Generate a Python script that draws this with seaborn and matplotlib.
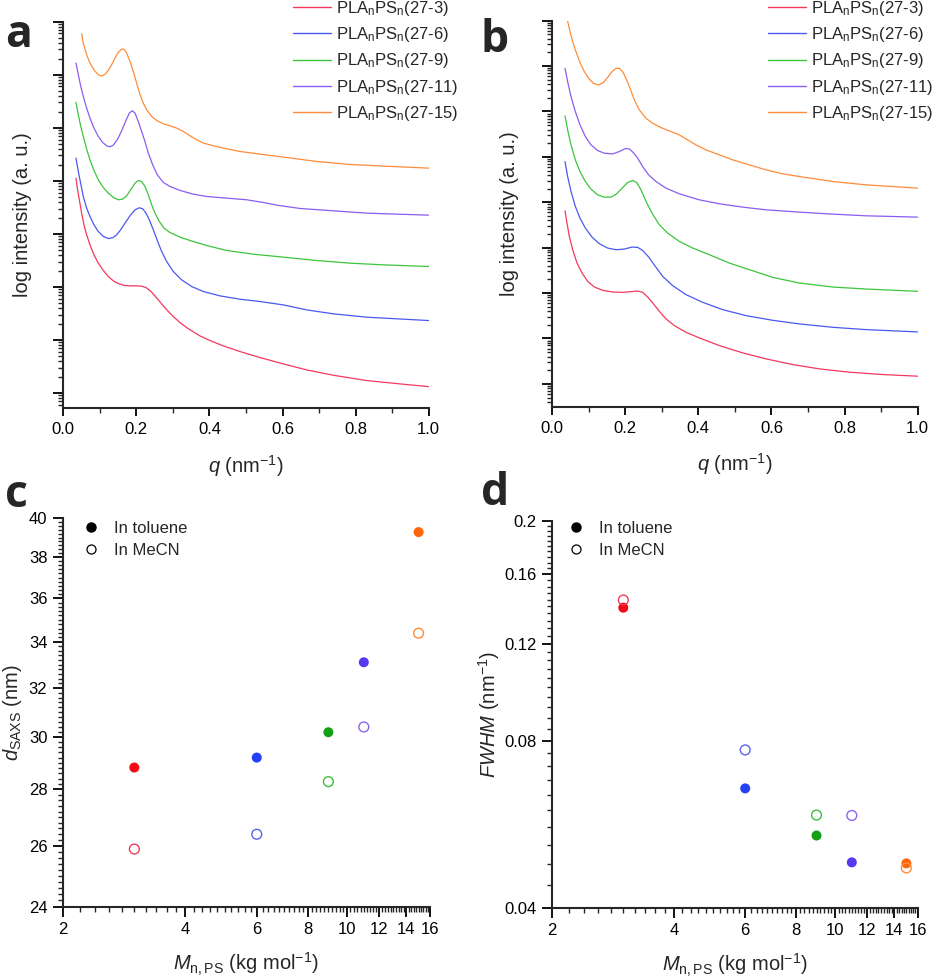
import numpy as np
import pandas as pd
import matplotlib
matplotlib.use("Agg")
import matplotlib.pyplot as plt
from matplotlib.ticker import (MultipleLocator, NullFormatter, FormatStrFormatter,
                               LogLocator, FixedLocator)
from matplotlib.lines import Line2D
import seaborn as sns

# ---------------- data ----------------
samples = ["27-3", "27-6", "27-9", "27-11", "27-15"]

# panel a (in toluene): q (nm^-1) and log10 intensity (a.u., curves offset)
q_a_3 = [0.0347, 0.0383, 0.0438, 0.0502, 0.0566, 0.0639, 0.0730, 0.0839, 0.0958, 0.1095,
         0.1232, 0.1369, 0.1505, 0.1642, 0.1825, 0.2007, 0.2144, 0.2263, 0.2372, 0.2482,
         0.2600, 0.2737, 0.2874, 0.3011, 0.3193, 0.3376, 0.3558, 0.3741, 0.4015, 0.4380,
         0.4836, 0.5383, 0.6022, 0.6661, 0.7391, 0.8303, 0.9215, 1.0]
logI_a_3 = [4.050, 3.862, 3.642, 3.390, 3.170, 2.981, 2.792, 2.604, 2.447, 2.308,
            2.195, 2.113, 2.063, 2.031, 2.019, 2.019, 2.013, 1.987, 1.931, 1.849,
            1.755, 1.642, 1.535, 1.440, 1.327, 1.233, 1.151, 1.075, 0.987, 0.887,
            0.780, 0.667, 0.547, 0.434, 0.333, 0.233, 0.170, 0.119]
q_a_6 = [0.0347, 0.0411, 0.0474, 0.0547, 0.0639, 0.0730, 0.0839, 0.0958, 0.1095, 0.1232,
         0.1350, 0.1460, 0.1569, 0.1688, 0.1825, 0.1962, 0.2080, 0.2172, 0.2263, 0.2354,
         0.2464, 0.2573, 0.2692, 0.2828, 0.3011, 0.3239, 0.3513, 0.3832, 0.4288, 0.4836,
         0.5383, 0.6022, 0.6661, 0.7391, 0.8303, 1.0]
logI_a_6 = [4.428, 4.176, 3.956, 3.704, 3.484, 3.327, 3.170, 3.044, 2.950, 2.912,
            2.925, 2.981, 3.075, 3.201, 3.340, 3.453, 3.491, 3.472, 3.390, 3.264,
            3.075, 2.874, 2.667, 2.478, 2.289, 2.132, 2.006, 1.912, 1.830, 1.767,
            1.723, 1.660, 1.566, 1.491, 1.428, 1.365]
q_a_9 = [0.0347, 0.0411, 0.0474, 0.0547, 0.0639, 0.0730, 0.0839, 0.0958, 0.1095, 0.1232,
         0.1369, 0.1505, 0.1624, 0.1734, 0.1843, 0.1962, 0.2053, 0.2144, 0.2235, 0.2327,
         0.2418, 0.2509, 0.2628, 0.2755, 0.2920, 0.3193, 0.3558, 0.3923, 0.4471, 0.5201,
         0.6022, 0.6934, 0.7847, 0.8759, 1.0]
logI_a_9 = [5.478, 5.245, 5.038, 4.836, 4.597, 4.396, 4.195, 4.019, 3.874, 3.767,
            3.686, 3.642, 3.654, 3.717, 3.830, 3.956, 4.006, 3.987, 3.893, 3.736,
            3.547, 3.390, 3.233, 3.107, 3.025, 2.937, 2.855, 2.780, 2.686, 2.616,
            2.560, 2.497, 2.447, 2.415, 2.384]
q_a_11 = [0.0347, 0.0411, 0.0474, 0.0547, 0.0639, 0.0730, 0.0839, 0.0958, 0.1077, 0.1186,
          0.1277, 0.1369, 0.1478, 0.1597, 0.1715, 0.1807, 0.1889, 0.1962, 0.2053, 0.2144,
          0.2235, 0.2327, 0.2445, 0.2573, 0.2737, 0.2920, 0.3193, 0.3558, 0.3923, 0.4471,
          0.5018, 0.5474, 0.5839, 0.6478, 0.7391, 0.8303, 1.0]
logI_a_11 = [6.220, 6.000, 5.792, 5.591, 5.371, 5.182, 4.994, 4.836, 4.723, 4.660,
             4.642, 4.673, 4.774, 4.943, 5.138, 5.277, 5.321, 5.277, 5.119, 4.931,
             4.742, 4.522, 4.302, 4.113, 3.969, 3.893, 3.818, 3.748, 3.704, 3.673,
             3.642, 3.591, 3.541, 3.478, 3.434, 3.390, 3.352]
q_a_15 = [0.0502, 0.0547, 0.0639, 0.0730, 0.0849, 0.0958, 0.1049, 0.1141, 0.1232, 0.1323,
          0.1414, 0.1505, 0.1597, 0.1661, 0.1734, 0.1825, 0.1916, 0.2007, 0.2099, 0.2190,
          0.2281, 0.2418, 0.2555, 0.2737, 0.2920, 0.3102, 0.3285, 0.3467, 0.3650, 0.3832,
          0.4106, 0.4471, 0.4836, 0.5383, 0.6022, 0.6934, 0.7847, 0.8759, 1.0]
logI_a_15 = [6.774, 6.597, 6.377, 6.220, 6.082, 6.000, 5.975, 6.006, 6.082, 6.189,
             6.314, 6.421, 6.484, 6.478, 6.409, 6.252, 6.063, 5.843, 5.623, 5.465,
             5.340, 5.214, 5.138, 5.075, 5.038, 4.994, 4.931, 4.849, 4.774, 4.711,
             4.660, 4.604, 4.553, 4.503, 4.447, 4.365, 4.308, 4.277, 4.239]

# panel b (in MeCN)
q_b_3 = [0.0356, 0.0410, 0.0474, 0.0565, 0.0684, 0.0821, 0.0976, 0.1158, 0.1386, 0.1659,
         0.1932, 0.2160, 0.2343, 0.2479, 0.2616, 0.2771, 0.2935, 0.3118, 0.3346, 0.3665,
         0.4029, 0.4576, 0.5214, 0.5852, 0.6581, 0.7311, 0.8131, 0.9043, 1.0]
logI_b_3 = [3.812, 3.541, 3.248, 2.955, 2.661, 2.441, 2.258, 2.133, 2.060, 2.023,
            2.016, 2.031, 2.045, 2.016, 1.913, 1.767, 1.598, 1.430, 1.283, 1.136,
            1.012, 0.843, 0.682, 0.550, 0.425, 0.330, 0.257, 0.205, 0.169]
q_b_6 = [0.0356, 0.0428, 0.0520, 0.0638, 0.0766, 0.0912, 0.1094, 0.1294, 0.1522, 0.1750,
         0.1978, 0.2188, 0.2343, 0.2479, 0.2644, 0.2826, 0.3026, 0.3300, 0.3665, 0.4120,
         0.4667, 0.5306, 0.6035, 0.6764, 0.7675, 0.8587, 1.0]
logI_b_6 = [4.897, 4.567, 4.238, 3.908, 3.651, 3.431, 3.233, 3.087, 2.991, 2.955,
            2.969, 3.013, 3.006, 2.940, 2.793, 2.588, 2.368, 2.163, 1.965, 1.796,
            1.635, 1.503, 1.400, 1.320, 1.246, 1.195, 1.144]
q_b_9 = [0.0356, 0.0428, 0.0520, 0.0638, 0.0766, 0.0912, 0.1067, 0.1249, 0.1431, 0.1614,
         0.1768, 0.1914, 0.2069, 0.2206, 0.2315, 0.2434, 0.2571, 0.2735, 0.2935, 0.3163,
         0.3482, 0.3847, 0.4302, 0.4850, 0.5397, 0.6035, 0.6764, 0.7675, 0.8587, 1.0]
logI_b_9 = [5.902, 5.594, 5.264, 4.934, 4.677, 4.457, 4.289, 4.164, 4.113, 4.113,
            4.186, 4.311, 4.436, 4.480, 4.436, 4.274, 4.018, 3.761, 3.504, 3.321,
            3.138, 2.991, 2.845, 2.661, 2.515, 2.346, 2.221, 2.133, 2.089, 2.038]
q_b_11 = [0.0356, 0.0428, 0.0520, 0.0638, 0.0766, 0.0912, 0.1067, 0.1249, 0.1431, 0.1659,
          0.1841, 0.2005, 0.2115, 0.2224, 0.2343, 0.2479, 0.2644, 0.2844, 0.3118, 0.3482,
          0.4029, 0.4576, 0.5214, 0.5852, 0.6764, 0.7675, 0.8587, 1.0]
logI_b_11 = [6.950, 6.657, 6.327, 5.997, 5.704, 5.447, 5.264, 5.139, 5.081, 5.066,
             5.117, 5.183, 5.176, 5.095, 4.971, 4.787, 4.604, 4.457, 4.311, 4.186,
             4.054, 3.966, 3.893, 3.834, 3.783, 3.739, 3.702, 3.673]
q_b_15 = [0.0428, 0.0492, 0.0565, 0.0656, 0.0766, 0.0884, 0.1003, 0.1130, 0.1276, 0.1404,
          0.1522, 0.1641, 0.1750, 0.1841, 0.1932, 0.2023, 0.2133, 0.2252, 0.2388, 0.2571,
          0.2753, 0.2981, 0.3209, 0.3482, 0.3710, 0.3938, 0.4211, 0.4576, 0.4941, 0.5397,
          0.5852, 0.6308, 0.6764, 0.7675, 0.8587, 1.0]
logI_b_15 = [7.990, 7.757, 7.537, 7.317, 7.075, 6.877, 6.730, 6.620, 6.584, 6.635,
             6.752, 6.877, 6.950, 6.950, 6.877, 6.730, 6.510, 6.254, 6.034, 5.850,
             5.740, 5.645, 5.572, 5.484, 5.374, 5.264, 5.154, 5.044, 4.934, 4.824,
             4.714, 4.626, 4.567, 4.457, 4.384, 4.311]

# panels c, d
mn_ps = [3, 6, 9, 11, 15]
d_toluene = [28.82, 29.2, 30.19, 33.1, 39.28]
d_mecn = [25.89, 26.4, 28.29, 30.4, 34.39]
fwhm_toluene = [0.1393, 0.0657, 0.0540, 0.0483, 0.0481]
fwhm_mecn = [0.1438, 0.0771, 0.0588, 0.0587, 0.0472]

line_colors = ["#f4385c", "#4a58f2", "#3cc43c", "#8a5cf0", "#ff8c3a"]
fill_colors = ["#f20a16", "#2540f5", "#14a014", "#5538f0", "#ff660a"]
open_colors = ["#f03c5a", "#5a64f0", "#3cc03c", "#8a64f0", "#ff8c3a"]

# ---------------- style ----------------
sns.set_style("ticks")
plt.rcParams["font.family"] = ["Liberation Sans", "DejaVu Sans"]
plt.rcParams["mathtext.fontset"] = "custom"
plt.rcParams["mathtext.rm"] = "Liberation Sans"
plt.rcParams["mathtext.it"] = "Liberation Sans:italic"
plt.rcParams["mathtext.bf"] = "Liberation Sans:bold"
plt.rcParams["axes.linewidth"] = 1.5

W, H = 936, 980
fig = plt.figure(figsize=(W / 100, H / 100), dpi=100)


def box(l, t, r, b):
    return [l / W, 1 - b / H, (r - l) / W, (b - t) / H]


ax_a = fig.add_axes(box(63.3, 21.7, 428.7, 408.3))
ax_b = fig.add_axes(box(552, 20.7, 917.7, 407))
ax_c = fig.add_axes(box(62.7, 518.3, 430, 906.7))
ax_d = fig.add_axes(box(552, 520.7, 917.7, 907.7))

TICK = 12
LAB = 14.5


def style_axis(ax):
    for s in ["top", "right"]:
        ax.spines[s].set_visible(False)
    for s in ["left", "bottom"]:
        ax.spines[s].set_linewidth(1.5)
    ax.tick_params(which="major", direction="out", length=6, width=1.3,
                   labelsize=TICK, pad=4, colors="black")
    ax.tick_params(which="minor", direction="out", length=3.5, width=1.0)


def label_text(s):
    return "PLA$_\\mathrm{n}$PS$_\\mathrm{n}$(" + s + ")"


def saxs_panel(ax, qs, logs, ylo, yhi, leg_x):
    frames = []
    for s, q, li in zip(samples, qs, logs):
        frames.append(pd.DataFrame({"q": q, "I": np.power(10.0, li), "sample": s}))
    df = pd.concat(frames, ignore_index=True)
    sns.lineplot(data=df, x="q", y="I", hue="sample", palette=line_colors,
                 hue_order=samples, estimator=None, sort=False, legend=False,
                 linewidth=0.9, ax=ax)
    ax.set_yscale("log")
    ax.set_ylim(10 ** ylo, 10 ** yhi)
    ax.set_xlim(0, 1.0)
    style_axis(ax)
    ax.yaxis.set_major_locator(LogLocator(base=10, numticks=30))
    ax.yaxis.set_minor_locator(LogLocator(base=10, subs=np.arange(2, 10), numticks=300))
    ax.yaxis.set_major_formatter(NullFormatter())
    ax.yaxis.set_minor_formatter(NullFormatter())
    ax.tick_params(axis="y", which="major", length=7)
    ax.xaxis.set_major_locator(MultipleLocator(0.2))
    ax.xaxis.set_minor_locator(MultipleLocator(0.1))
    ax.xaxis.set_major_formatter(FormatStrFormatter("%.1f"))
    ax.set_xlabel("$q$ (nm$^{-1}$)", fontsize=LAB)
    ax.set_ylabel("log intensity (a. u.)", fontsize=LAB)
    handles = [Line2D([], [], color=c, lw=1.0) for c in line_colors]
    ax.legend(handles, [label_text(s) for s in samples], loc="upper left",
              bbox_to_anchor=(leg_x / W, 1 + 1 / H), bbox_transform=fig.transFigure,
              frameon=False, fontsize=12, borderpad=0, borderaxespad=0,
              handlelength=2.25, handletextpad=0.35, labelspacing=0.43)


saxs_panel(ax_a, [q_a_3, q_a_6, q_a_9, q_a_11, q_a_15],
           [logI_a_3, logI_a_6, logI_a_9, logI_a_11, logI_a_15], -0.29, 7.0, 293)
saxs_panel(ax_b, [q_b_3, q_b_6, q_b_9, q_b_11, q_b_15],
           [logI_b_3, logI_b_6, logI_b_9, logI_b_11, logI_b_15], -0.51, 8.0, 768)
ax_a.yaxis.set_label_coords((32 - 63.3) / 365.4, 0.5)
ax_b.yaxis.set_label_coords((519 - 552) / 365.7, 0.5)
ax_a.xaxis.set_label_coords(0.5, -0.115)
ax_b.xaxis.set_label_coords(0.5, -0.115)


def scatter_panel(ax, filled, hollow, ylim, ymaj, ymin, ylabel, leg_x):
    df_f = pd.DataFrame({"Mn": mn_ps, "val": filled, "sample": samples})
    df_o = pd.DataFrame({"Mn": mn_ps, "val": hollow, "sample": samples})
    sns.scatterplot(data=df_f, x="Mn", y="val", hue="sample", hue_order=samples,
                    palette=fill_colors, s=52, linewidth=0, legend=False, ax=ax, zorder=3)
    sns.scatterplot(data=df_o, x="Mn", y="val", hue="sample", hue_order=samples,
                    palette=open_colors, s=50, linewidth=1.0, legend=False, ax=ax, zorder=4)
    pts = ax.collections[-1]
    pts.set_edgecolors(pts.get_facecolors())
    pts.set_facecolors("none")
    ax.set_xscale("log")
    ax.set_yscale("log")
    ax.set_xlim(2, 16)
    ax.set_ylim(*ylim)
    style_axis(ax)
    ax.xaxis.set_major_locator(FixedLocator([2, 4, 6, 8, 10, 12, 14, 16]))
    ax.xaxis.set_minor_locator(MultipleLocator(0.2))
    ax.xaxis.set_major_formatter(FormatStrFormatter("%g"))
    ax.xaxis.set_minor_formatter(NullFormatter())
    ax.yaxis.set_major_locator(MultipleLocator(ymaj))
    ax.yaxis.set_minor_locator(MultipleLocator(ymin))
    ax.yaxis.set_major_formatter(FormatStrFormatter("%g"))
    ax.yaxis.set_minor_formatter(NullFormatter())
    ax.tick_params(which="major", length=7)
    ax.set_xlabel("$M_\\mathrm{n,PS}$ (kg mol$^{-1}$)", fontsize=LAB)
    ax.set_ylabel(ylabel, fontsize=LAB)
    handles = [Line2D([], [], ls="none", marker="o", ms=6.5, mfc="black", mec="black"),
               Line2D([], [], ls="none", marker="o", ms=6.5, mfc="none", mec="black", mew=0.9)]
    ax.legend(handles, ["In toluene", "In MeCN"], loc="upper left",
              bbox_to_anchor=(leg_x / W, 1 - 521 / H), bbox_transform=fig.transFigure,
              frameon=False, fontsize=12, borderpad=0, borderaxespad=0,
              handlelength=0.8, handletextpad=1.0, labelspacing=0.4)


scatter_panel(ax_c, d_toluene, d_mecn, (24, 40), 2, 0.2, "$d_\\mathrm{SAXS}$ (nm)", 84)
scatter_panel(ax_d, fwhm_toluene, fwhm_mecn, (0.04, 0.2), 0.04, 0.004,
              "$FWHM$ (nm$^{-1}$)", 569)
ax_c.yaxis.set_label_coords((24 - 62.7) / 367.3, 0.5)
ax_d.yaxis.set_label_coords((502 - 552) / 365.7, 0.5)
ax_c.xaxis.set_label_coords(0.5, -0.115)
ax_d.xaxis.set_label_coords(0.5, -0.115)

for txt, x, y in [("a", 5, 47), ("b", 481, 52), ("c", 5, 507), ("d", 481, 505)]:
    fig.text(x / W, 1 - y / H, txt, fontsize=32, fontweight="bold",
             family=["Open Sans", "DejaVu Sans"], ha="left", va="baseline")

fig.savefig("out.png", dpi=100)
